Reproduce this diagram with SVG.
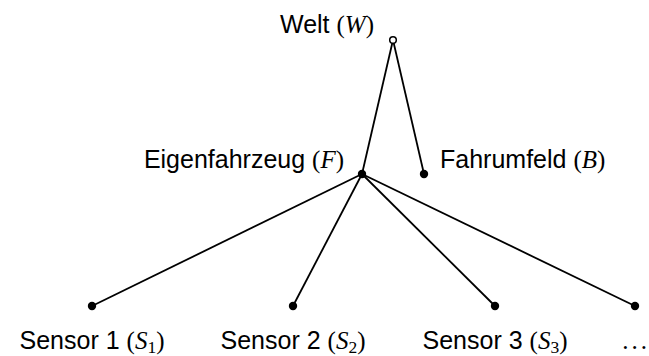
<svg xmlns="http://www.w3.org/2000/svg" width="649" height="356" viewBox="0 0 649 356">
  <style>
    .lbl { font-family: "Liberation Sans", Arial, sans-serif; font-size: 25px; fill: #000; }
    .m { font-family: "Liberation Serif", "Times New Roman", serif; }
    .mi { font-family: "Liberation Serif", "Times New Roman", serif; font-style: italic; }
    .sub { font-family: "Liberation Serif", "Times New Roman", serif; font-size: 17.5px; }
    .edge { stroke: #000; stroke-width: 1.8; fill: none; }
    .dot { fill: #000; }
    .open { fill: #fff; stroke: #000; stroke-width: 1.5; }
  </style>
  <rect width="649" height="356" fill="#fff"/>

  <!-- tree edges -->
  <g id="connectors">
    <line class="edge" x1="393" y1="40" x2="362" y2="174"/>
    <line class="edge" x1="393" y1="40" x2="424" y2="174"/>
    <line class="edge" x1="362" y1="174" x2="92" y2="306"/>
    <line class="edge" x1="362" y1="174" x2="293" y2="306"/>
    <line class="edge" x1="362" y1="174" x2="495" y2="306"/>
    <line class="edge" x1="362" y1="174" x2="635" y2="306"/>
  </g>

  <g id="welt">
    <circle class="open" cx="393" cy="40" r="3.3"/>
    <text class="lbl" x="374" y="33" text-anchor="end">Welt <tspan class="m">(</tspan><tspan class="mi">W</tspan><tspan class="m">)</tspan></text>
  </g>

  <g id="eigenfahrzeug">
    <circle class="dot" cx="362" cy="174" r="4.2"/>
    <text class="lbl" x="344" y="168" text-anchor="end">Eigenfahrzeug <tspan class="m">(</tspan><tspan class="mi">F</tspan><tspan class="m">)</tspan></text>
  </g>

  <g id="fahrumfeld">
    <circle class="dot" cx="424" cy="174" r="4.2"/>
    <text class="lbl" x="440" y="168">Fahrumfeld <tspan class="m">(</tspan><tspan class="mi">B</tspan><tspan class="m">)</tspan></text>
  </g>

  <g id="sensor1">
    <circle class="dot" cx="92" cy="306" r="4.2"/>
    <text class="lbl" x="92" y="349" text-anchor="middle">Sensor 1 <tspan class="m">(</tspan><tspan class="mi">S</tspan><tspan class="sub" dy="4">1</tspan><tspan class="m" dy="-4">)</tspan></text>
  </g>

  <g id="sensor2">
    <circle class="dot" cx="293" cy="306" r="4.2"/>
    <text class="lbl" x="293" y="349" text-anchor="middle">Sensor 2 <tspan class="m">(</tspan><tspan class="mi">S</tspan><tspan class="sub" dy="4">2</tspan><tspan class="m" dy="-4">)</tspan></text>
  </g>

  <g id="sensor3">
    <circle class="dot" cx="495" cy="306" r="4.2"/>
    <text class="lbl" x="495" y="349" text-anchor="middle">Sensor 3 <tspan class="m">(</tspan><tspan class="mi">S</tspan><tspan class="sub" dy="4">3</tspan><tspan class="m" dy="-4">)</tspan></text>
  </g>

  <g id="more">
    <circle class="dot" cx="635" cy="306" r="4.2"/>
    <text class="lbl m" x="636" y="349" text-anchor="middle" letter-spacing="3">...</text>
  </g>
</svg>
